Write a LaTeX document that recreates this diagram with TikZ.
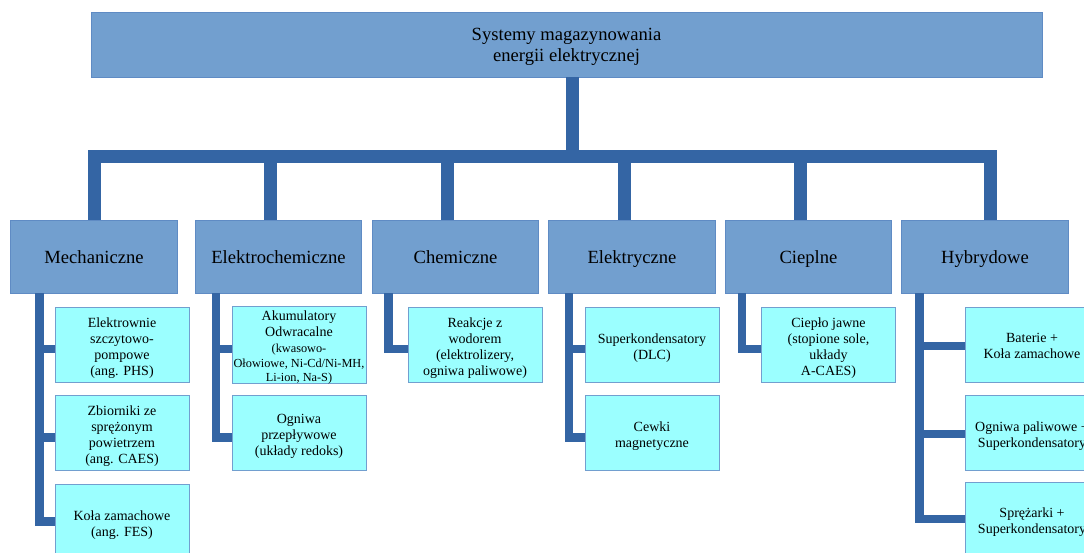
\documentclass[tikz,border=0pt]{standalone}
\usepackage{fontspec}
\setmainfont{Liberation Serif}
\definecolor{boxblue}{HTML}{729FCF}
\definecolor{boxedge}{HTML}{5F8BC4}
\definecolor{linkblue}{HTML}{3465A4}
\definecolor{subfill}{HTML}{9BFFFF}
\newcommand{\smf}{\fontsize{12.3}{14}\selectfont}
\newcommand{\lns}[2]{\raisebox{#1}[\height][\depth]{\begin{tabular}{@{}c@{}}#2\end{tabular}}}
\tikzset{
  topbox/.style={draw=boxedge, fill=boxblue, line width=0.8pt, inner sep=0pt,
    minimum width=951pt, minimum height=65pt,
    font=\fontsize{18.6}{21}\selectfont},
  catbox/.style={draw=boxedge, fill=boxblue, line width=0.8pt, inner sep=0pt,
    minimum width=166.5pt, minimum height=73pt,
    font=\fontsize{18.6}{21}\selectfont},
  subbox/.style={draw=boxblue, fill=subfill, line width=0.8pt, inner sep=0pt,
    minimum width=134pt, minimum height=75pt,
    font=\fontsize{14}{16}\selectfont},
  bus/.style={draw=linkblue, line width=13pt},
  tree/.style={draw=linkblue, line width=8.5pt}
}
\begin{document}
\begin{tikzpicture}[x=1pt, y=-1pt]
\useasboundingbox (0,0) rectangle (1084,553);
\clip (0,0) rectangle (1084,553);

% top
\node[topbox] (top) at (566.5,44.5) {\lns{-2pt}{Systemy magazynowania\\energii elektrycznej}};

% categories
\node[catbox] (c1) at (94,256.5) {\lns{-3pt}{Mechaniczne}};
\node[catbox] (c2) at (278.5,256.5) {\lns{-3pt}{Elektrochemiczne}};
\node[catbox] (c3) at (455.5,256.5) {\lns{-3pt}{Chemiczne}};
\node[catbox] (c4) at (632,256.5) {\lns{-3pt}{Elektryczne}};
\node[catbox] (c5) at (808.5,256.5) {\lns{-3pt}{Cieplne}};
\node[catbox] (c6) at (985,256.5) {\lns{-3pt}{Hybrydowe}};

% sub boxes
\node[subbox] (m1) at (122,344.5) {\lns{-4pt}{Elektrownie\\szczytowo-\\pompowe\\(ang. PHS)}};
\node[subbox] (m2) at (122,433) {\lns{-3.5pt}{Zbiorniki ze\\sprężonym\\powietrzem\\(ang. CAES)}};
\node[subbox] (m3) at (122,521.5) {\lns{-3.5pt}{Koła zamachowe\\(ang. FES)}};

\node[subbox] (e1) at (299,344.5) {\lns{-3pt}{Akumulatory\\Odwracalne\\\smf(kwasowo-\\[-1pt]\smf Ołowiowe, Ni-Cd/Ni-MH,\\[-2pt]\smf Li-ion, Na-S)}};
\node[subbox] (e2) at (299,433) {\lns{-3pt}{Ogniwa\\przepływowe\\(układy redoks)}};

\node[subbox] (ch1) at (475,344.5) {\lns{-3.5pt}{Reakcje z\\wodorem\\(elektrolizery,\\ogniwa paliwowe)}};

\node[subbox] (el1) at (652,344.5) {\lns{-3.5pt}{Superkondensatory\\(DLC)}};
\node[subbox] (el2) at (652,433) {\lns{-3.5pt}{Cewki\\magnetyczne}};

\node[subbox] (cp1) at (828.5,344.5) {\lns{-3.5pt}{Ciepło jawne\\(stopione sole,\\układy\\A-CAES)}};

\node[subbox] (h1) at (1032,345) {\lns{-2.5pt}{Baterie +\\Koła zamachowe}};
\node[subbox] (h2) at (1032,433) {\lns{-3pt}{Ogniwa paliwowe +\\Superkondensatory}};
\node[subbox] (h3) at (1032,519.5) {\lns{-3pt}{Sprężarki +\\Superkondensatory}};

% bus
\coordinate (bus) at (572.5,157);
\draw[bus] ([xshift=6pt]top.south) -- (bus);
\draw[bus] (c1.north) |- (bus) -| ([xshift=5.5pt]c6.north);
\draw[bus] ([xshift=-8pt]c2.north) -- ([xshift=-8pt]c2.north |- bus);
\draw[bus] ([xshift=-8.5pt]c3.north) -- ([xshift=-8.5pt]c3.north |- bus);
\draw[bus] ([xshift=-8pt]c4.north) -- ([xshift=-8pt]c4.north |- bus);
\draw[bus] ([xshift=-8pt]c5.north) -- ([xshift=-8pt]c5.north |- bus);

% trees
\draw[tree] ([xshift=29pt]c1.south west) |- (m3.west);
\draw[tree] ([xshift=29pt]c1.south west |- m1.west) ++(0,4.5) -- ([yshift=-4.5pt]m1.west);
\draw[tree] ([xshift=29pt]c1.south west |- m2.west) ++(0,4.5) -- ([yshift=-4.5pt]m2.west);

\draw[tree] ([xshift=21pt]c2.south west) |- ([yshift=-4.5pt]e2.west);
\draw[tree] ([xshift=21pt]c2.south west |- e1.west) ++(0,4.5) -- ([yshift=-4.5pt]e1.west);

\draw[tree] ([xshift=16.7pt]c3.south west) |- ([yshift=-4.5pt]ch1.west);

\draw[tree] ([xshift=20.5pt]c4.south west) |- ([yshift=-4.5pt]el2.west);
\draw[tree] ([xshift=20.5pt]c4.south west |- el1.west) ++(0,4.5) -- ([yshift=-4.5pt]el1.west);

\draw[tree] ([xshift=17.3pt]c5.south west) |- ([yshift=-4.5pt]cp1.west);

\draw[tree] ([xshift=18pt]c6.south west) |- ([yshift=0.5pt]h3.west);
\draw[tree] ([xshift=18pt]c6.south west |- h1.west) ++(0,1) -- ([yshift=-1pt]h1.west);
\draw[tree] ([xshift=18pt]c6.south west |- h2.west) ++(0,1) -- ([yshift=-1pt]h2.west);
\end{tikzpicture}
\end{document}
